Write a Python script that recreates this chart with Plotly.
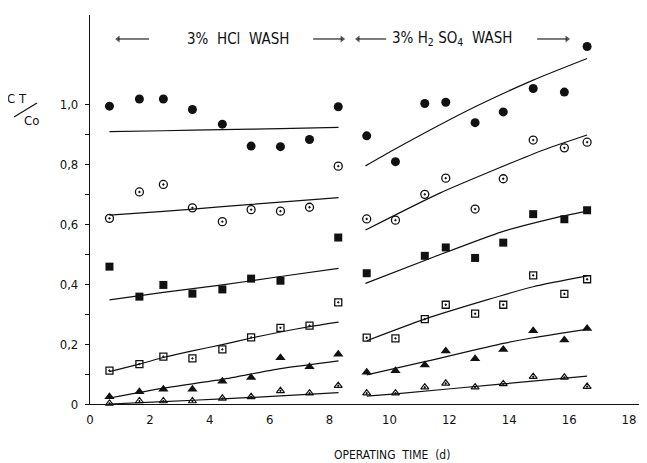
import plotly.graph_objects as go

# ---------------- data ----------------
x_left = [0.65, 1.65, 2.45, 3.42, 4.42, 5.38, 6.36, 7.33, 8.29]
x_right = [9.24, 10.2, 11.18, 11.88, 12.86, 13.8, 14.8, 15.84, 16.6]

filled_circle_left = [0.993, 1.017, 1.017, 0.982, 0.933, 0.86, 0.858, 0.882, 0.991]
filled_circle_right = [0.894, 0.808, 1.002, 1.006, 0.938, 0.974, 1.052, 1.04, 1.192]

open_circle_left = [0.619, 0.707, 0.732, 0.654, 0.608, 0.648, 0.643, 0.656, 0.793]
open_circle_right = [0.617, 0.613, 0.699, 0.753, 0.65, 0.751, 0.88, 0.854, 0.873]

filled_square_left = [0.458, 0.358, 0.397, 0.368, 0.382, 0.418, 0.411, None, 0.555]
filled_square_right = [0.436, None, 0.494, 0.522, 0.487, 0.538, 0.633, 0.616, 0.646]

open_square_left = [0.111, 0.133, 0.158, 0.152, 0.182, 0.222, 0.254, 0.261, 0.339]
open_square_right = [0.221, 0.219, 0.283, 0.331, 0.301, 0.331, 0.429, 0.367, 0.416]

filled_tri_left = [0.024, 0.041, 0.049, 0.049, 0.076, 0.088, 0.154, 0.124, 0.166]
filled_tri_right = [0.106, 0.111, 0.13, 0.177, 0.151, 0.182, 0.244, 0.213, 0.252]

open_tri_left = [0.002, 0.01, 0.01, 0.01, 0.019, 0.024, 0.044, 0.036, 0.061]
open_tri_right = [0.036, 0.036, 0.056, 0.069, 0.056, 0.067, 0.091, 0.089, 0.058]

# fitted model curves
fit_x_left = [0.65, 2.45, 4.42, 6.36, 8.3]
fit_filled_circle_left = [0.908, 0.911, 0.915, 0.918, 0.922]
fit_open_circle_left = [0.63, 0.642, 0.658, 0.673, 0.688]
fit_filled_square_left = [0.347, 0.372, 0.397, 0.425, 0.452]
fit_filled_tri_left = [0.02, 0.053, 0.082, 0.118, 0.144]
fit_open_tri_left = [0.0, 0.008, 0.017, 0.027, 0.038]

fit_x_open_square_left = [0.65, 1.65, 2.45, 3.42, 4.42, 5.38, 6.36, 7.33, 8.3]
fit_open_square_left = [0.108, 0.133, 0.155, 0.177, 0.198, 0.22, 0.24, 0.258, 0.273]

fit_x_filled_circle_right = [9.2, 10.13, 12.86, 14.8, 16.6]
fit_filled_circle_right = [0.794, 0.847, 0.991, 1.08, 1.152]
fit_x_open_circle_right = [9.2, 11.7, 15.14, 16.6]
fit_open_circle_right = [0.58, 0.704, 0.847, 0.897]
fit_x_filled_square_right = [9.2, 11.5, 13.75, 15.46, 16.6]
fit_filled_square_right = [0.402, 0.491, 0.574, 0.619, 0.643]
fit_x_open_square_right = [9.24, 11.18, 13.25, 14.8, 16.6]
fit_open_square_right = [0.211, 0.283, 0.347, 0.391, 0.427]
fit_x_filled_tri_right = [9.24, 11.18, 13.8, 14.8, 16.6]
fit_filled_tri_right = [0.097, 0.141, 0.202, 0.221, 0.249]
fit_x_open_tri_right = [9.24, 10.2, 13.8, 16.6]
fit_open_tri_right = [0.026, 0.034, 0.067, 0.093]

y_tick_vals = [0, 0.2, 0.4, 0.6, 0.8, 1.0]
y_tick_text = ["0", "0,2", "0,4", "0,6", "0,8", "1,0"]
y_minor_vals = [0.1, 0.3, 0.5, 0.7, 0.9]
x_tick_vals = [0, 2, 4, 6, 8, 10, 12, 14, 16, 18]
x_tick_text = ["0", "2", "4", "6", "8", "10", "12", "14", "16", "18"]

# wash period arrows: (tail, head) in days
wash_arrows = [(1.97, 0.94), (7.45, 8.42), (9.89, 8.95), (14.93, 15.93)]

# ---------------- figure ----------------
INK = "#111111"
FONT = "DejaVu Sans Condensed"
NB = "\u00a0"
fig = go.Figure()

series = [
    (filled_circle_left, filled_circle_right, "circle", 9, 0),
    (open_circle_left, open_circle_right, "circle-open-dot", 8, 1.3),
    (filled_square_left, filled_square_right, "square", 8, 0),
    (open_square_left, open_square_right, "square-open-dot", 7, 1.3),
    (filled_tri_left, filled_tri_right, "triangle-up", 9, 0),
    (open_tri_left, open_tri_right, "triangle-up-open-dot", 7, 1.2),
]
for yl, yr, sym, sz, lw in series:
    for xs, ys in ((x_left, yl), (x_right, yr)):
        fig.add_trace(go.Scatter(
            x=xs, y=ys, mode="markers",
            marker=dict(symbol=sym, size=sz, color=INK, line=dict(color=INK, width=lw)),
            showlegend=False, hoverinfo="skip", cliponaxis=False))

fits = [
    (fit_x_left, fit_filled_circle_left),
    (fit_x_left, fit_open_circle_left),
    (fit_x_left, fit_filled_square_left),
    (fit_x_open_square_left, fit_open_square_left),
    (fit_x_left, fit_filled_tri_left),
    (fit_x_left, fit_open_tri_left),
    (fit_x_filled_circle_right, fit_filled_circle_right),
    (fit_x_open_circle_right, fit_open_circle_right),
    (fit_x_filled_square_right, fit_filled_square_right),
    (fit_x_open_square_right, fit_open_square_right),
    (fit_x_filled_tri_right, fit_filled_tri_right),
    (fit_x_open_tri_right, fit_open_tri_right),
]
for xs, ys in fits:
    fig.add_trace(go.Scatter(
        x=xs, y=ys, mode="lines", line=dict(color=INK, width=1.2, shape="spline", smoothing=0.6),
        showlegend=False, hoverinfo="skip"))

# wash period arrows
arrow_y = 1.217
for tail, head in wash_arrows:
    head_sym = "triangle-right" if head > tail else "triangle-left"
    fig.add_trace(go.Scatter(
        x=[tail, head], y=[arrow_y, arrow_y], mode="lines+markers",
        line=dict(color=INK, width=1.1),
        marker=dict(symbol=["circle", head_sym], size=[0, 6], color=INK, line=dict(width=0)),
        showlegend=False, hoverinfo="skip", cliponaxis=False))

fig.add_annotation(x=4.93, y=arrow_y, xref="x", yref="y", showarrow=False,
                   xanchor="center", yanchor="middle",
                   text="3%" + NB + " HCl" + NB + " WASH", font=dict(family=FONT, size=15, color=INK))
fig.add_annotation(x=12.1, y=arrow_y, xref="x", yref="y", showarrow=False,
                   xanchor="center", yanchor="middle",
                   text="3% H<sub>2</sub> SO<sub>4</sub>" + NB + " WASH",
                   font=dict(family=FONT, size=15, color=INK))

# y-axis label CT / Co
fig.add_annotation(x=-0.1302, y=0.7853, xref="paper", yref="paper", showarrow=False,
                   xanchor="center", yanchor="middle",
                   text="C T", font=dict(family=FONT, size=13, color=INK))
fig.add_annotation(x=-0.105, y=0.7288, xref="paper", yref="paper", showarrow=False,
                   xanchor="center", yanchor="middle",
                   text="Co", font=dict(family=FONT, size=13, color=INK))
fig.add_shape(type="line", xref="paper", yref="paper", x0=-0.1364, y0=0.7378,
              x1=-0.0952, y1=0.7738, line=dict(color=INK, width=1.2))

# x-axis title
fig.add_annotation(x=0.542, y=-0.131, xref="paper", yref="paper", showarrow=False,
                   xanchor="center", yanchor="middle",
                   text="OPERATING" + NB * 2 + "TIME" + NB * 2 + "(d)",
                   font=dict(family=FONT, size=12, color=INK))

# page body has an 8px margin: figure is 639x455 so that it fills the 647x463 window
fig.update_layout(
    width=639, height=455,
    margin=dict(l=82, r=0, t=7, b=59, autoexpand=False),
    paper_bgcolor="white", plot_bgcolor="white",
    font=dict(family=FONT, size=12, color=INK),
    xaxis=dict(range=[0, 18.6], tickvals=x_tick_vals, ticktext=x_tick_text,
               showline=True, linecolor=INK, linewidth=1.2, ticks="", showgrid=False,
               zeroline=False, ticklabelstandoff=3, tickfont=dict(size=13)),
    yaxis=dict(range=[0, 1.297], tickvals=y_tick_vals, ticktext=y_tick_text,
               showline=True, linecolor=INK, linewidth=1.2, ticks="outside", ticklen=4,
               tickcolor=INK, tickwidth=1.2, showgrid=False, zeroline=False,
               ticklabelstandoff=4, tickfont=dict(size=13),
               minor=dict(tickvals=y_minor_vals, ticks="outside", ticklen=4,
                          tickcolor=INK, tickwidth=1.2, showgrid=False)),
)

fig.write_html("out.html")
